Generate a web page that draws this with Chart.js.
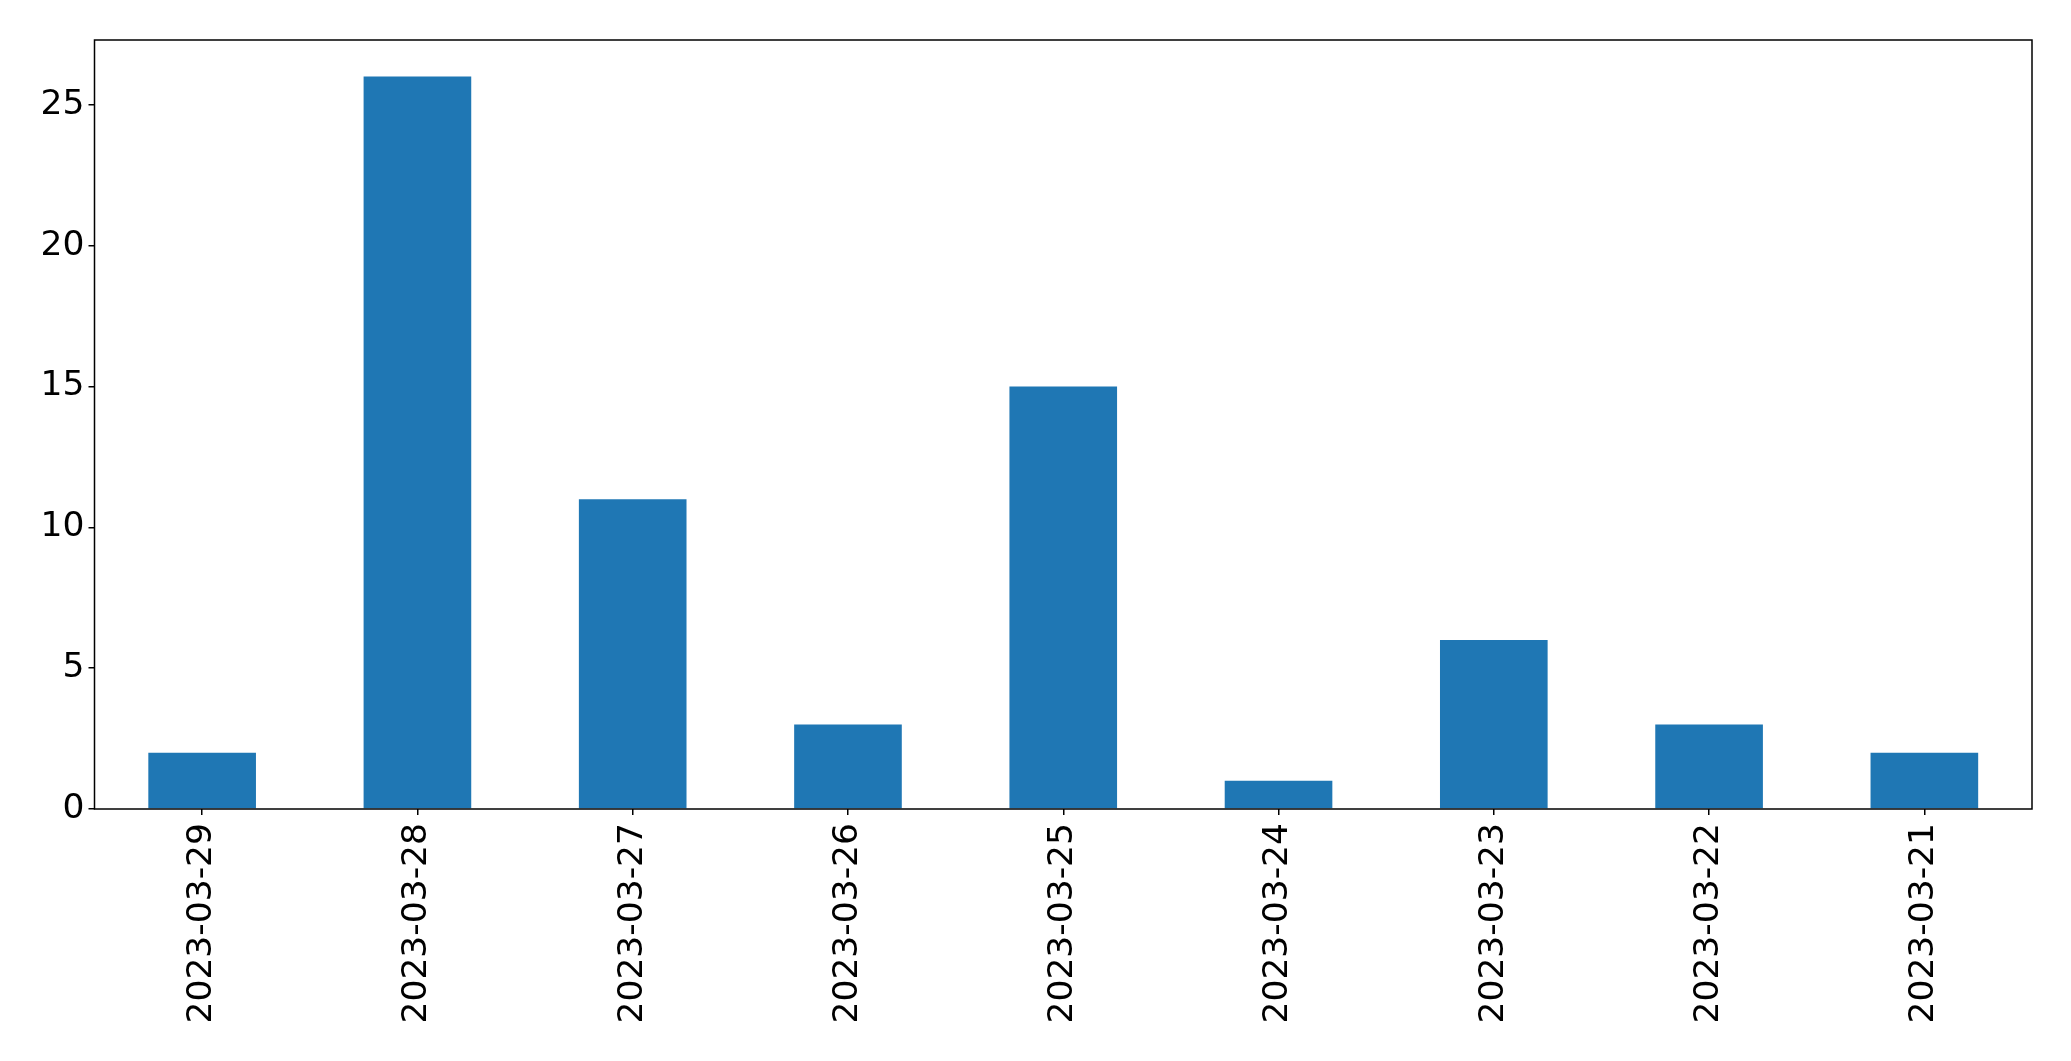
<!DOCTYPE html>
<html>
<head>
<meta charset="utf-8">
<script src="https://cdn.jsdelivr.net/npm/chart.js@4/dist/chart.umd.min.js"></script>
<style>
  html, body { margin: 0; padding: 0; background: #fff; }
  #wrap { width: 2071px; height: 1061px; }
</style>
</head>
<body>
<div id="wrap"><canvas id="barChart" width="2071" height="1061"></canvas></div>
<script>
const dates = ['2023-03-29', '2023-03-28', '2023-03-27', '2023-03-26', '2023-03-25',
               '2023-03-24', '2023-03-23', '2023-03-22', '2023-03-21'];
const counts = [2, 26, 11, 3, 15, 1, 6, 3, 2];
const yTicks = [0, 5, 10, 15, 20, 25];

// matplotlib-style frame around the plot area
const frame = {
    id: 'frame',
    afterDraw(chart) {
        const { ctx, chartArea } = chart;
        ctx.save();
        ctx.strokeStyle = '#000';
        ctx.lineWidth = 1.5;
        ctx.strokeRect(chartArea.left, chartArea.top,
            chartArea.right - chartArea.left, chartArea.bottom - chartArea.top);
        ctx.restore();
    }
};

new Chart(document.getElementById('barChart'), {
    type: 'bar',
    data: {
        labels: dates,
        datasets: [{
            data: counts,
            backgroundColor: '#1f77b4',
            borderWidth: 0,
            barPercentage: 0.5,
            categoryPercentage: 1.0,
        }],
    },
    options: {
        responsive: false,
        animation: false,
        layout: {
            padding: { top: 40, right: 39, left: 0, bottom: 0 }
        },
        plugins: {
            legend: { display: false },
            tooltip: { enabled: false },
        },
        scales: {
            x: {
                offset: true,
                grid: {
                    display: true,
                    drawOnChartArea: false,
                    drawTicks: true,
                    tickLength: 6,
                    offset: false,
                    color: '#000',
                    lineWidth: 1.5,
                },
                border: { display: false },
                ticks: {
                    color: '#000',
                    font: { family: 'DejaVu Sans', size: 34.5 },
                    minRotation: 90,
                    maxRotation: 90,
                    padding: 8,
                    autoSkip: false,
                },
                afterFit(scale) { scale.height = 252; },
            },
            y: {
                min: 0,
                max: 27.3,
                grid: {
                    display: true,
                    drawOnChartArea: false,
                    drawTicks: true,
                    tickLength: 6,
                    color: '#000',
                    lineWidth: 1.5,
                },
                border: { display: false },
                ticks: {
                    color: '#000',
                    font: { family: 'DejaVu Sans', size: 34.5 },
                    stepSize: 5,
                    padding: 4,
                },
                afterBuildTicks(scale) {
                    scale.ticks = yTicks.map(v => ({ value: v }));
                },
                afterFit(scale) { scale.width = 94.5; },
            }
        }
    },
    plugins: [frame]
});
</script>
</body>
</html>
